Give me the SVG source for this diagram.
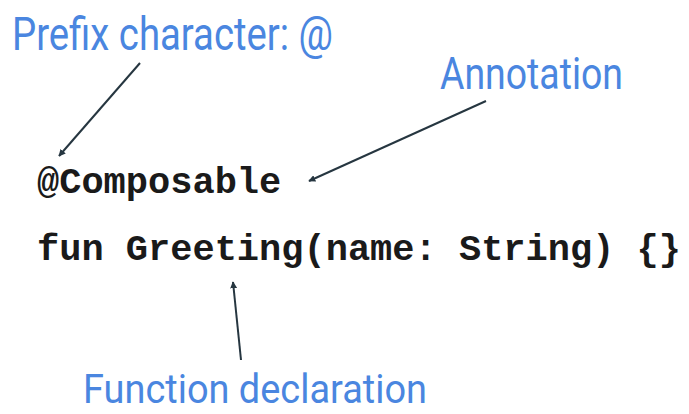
<svg xmlns="http://www.w3.org/2000/svg" width="689" height="414" viewBox="0 0 689 414">
<defs>
<style>
.lbl{font-family:Roboto,"Liberation Sans",sans-serif;fill:#4a86e0;}
.code{font-family:"Liberation Mono","Courier New",monospace;font-weight:bold;fill:#1a1a1a;font-size:37px;}
.conn{stroke:#263640;stroke-width:2;fill:none;marker-end:url(#ah);}
</style>
<marker id="ah" viewBox="0 0 10 10" refX="9" refY="5" markerWidth="7" markerHeight="7" markerUnits="userSpaceOnUse" orient="auto">
<path d="M0,0 L10,5 L0,10 z" fill="#263640"/>
</marker>
</defs>
<rect width="689" height="414" fill="#ffffff"/>
<g id="label-prefix"><text class="lbl" x="12" y="50" font-size="46" textLength="321" lengthAdjust="spacingAndGlyphs">Prefix character: @</text></g>
<g id="label-annotation"><text class="lbl" x="440" y="89" font-size="44" textLength="183" lengthAdjust="spacingAndGlyphs">Annotation</text></g>
<g id="label-function"><text class="lbl" x="83" y="403" font-size="40" textLength="344" lengthAdjust="spacingAndGlyphs">Function declaration</text></g>
<g id="code-annotation"><text class="code" x="37" y="193">@Composable</text></g>
<g id="code-function"><text class="code" x="37" y="260" textLength="644" lengthAdjust="spacing">fun Greeting(name: String) {}</text></g>
<g id="connectors">
<line class="conn" x1="140" y1="63" x2="59" y2="156"/>
<line class="conn" x1="486" y1="101" x2="309" y2="181"/>
<line class="conn" x1="241" y1="360" x2="233" y2="282"/>
</g>
</svg>
